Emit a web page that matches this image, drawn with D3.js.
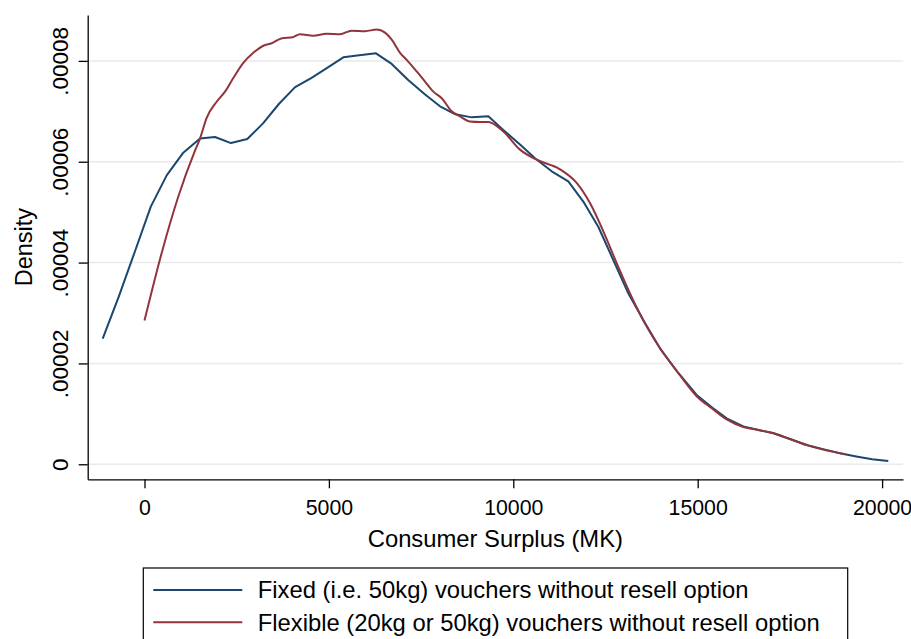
<!DOCTYPE html>
<html>
<head>
<meta charset="utf-8">
<script src="https://cdn.jsdelivr.net/npm/d3@7"></script>
<style>
  html, body { margin: 0; padding: 0; background: #fff; }
  svg { display: block; font-family: "Liberation Sans", Arial, Helvetica, sans-serif; }
</style>
</head>
<body>
<svg id="chart" width="911" height="639"></svg>
<script>
// Kernel density estimates of consumer surplus (MK)
const fixedSurplus = [-1133, -700, -260, 171, 602, 1052, 1505, 1912, 2345, 2788, 3214, 3649, 4084, 4519, 4953,
  5391, 5823, 6277, 6703, 7150, 7600, 8013, 8431, 8872, 9323, 9729, 10182, 10589, 11041, 11492, 11898,
  12305, 12712, 13118, 13571, 13978, 14474, 14972, 15400, 15786, 16237, 16650, 17050, 17500, 17955,
  18400, 18858, 19300, 19730, 20168];
const fixedDensity = [2.49e-5, 3.32e-5, 4.22e-5, 5.11e-5, 5.73e-5, 6.18e-5, 6.46e-5, 6.49e-5, 6.37e-5, 6.45e-5,
  6.76e-5, 7.15e-5, 7.48e-5, 7.66e-5, 7.86e-5, 8.07e-5, 8.11e-5, 8.15e-5, 7.94e-5, 7.62e-5, 7.34e-5,
  7.10e-5, 6.94e-5, 6.88e-5, 6.90e-5, 6.63e-5, 6.34e-5, 6.07e-5, 5.81e-5, 5.61e-5, 5.21e-5, 4.71e-5,
  4.05e-5, 3.39e-5, 2.80e-5, 2.30e-5, 1.81e-5, 1.375e-5, 1.12e-5, 0.91e-5, 0.75e-5, 0.68e-5, 0.615e-5,
  0.50e-5, 0.383e-5, 0.30e-5, 0.218e-5, 0.155e-5, 0.10e-5, 0.065e-5];

const flexSurplus = [0, 466, 917, 1369, 1505, 1686, 1957, 2183, 2408, 2679, 2950, 3221, 3449, 3731, 4021, 4216,
  4577, 4940, 5301, 5617, 5979, 6296, 6522, 6703, 6929, 7110, 7381, 7607, 7833, 8059, 8330, 8555, 8826,
  9097, 9323, 9729, 10182, 10634, 11266, 11718, 12079, 12441, 12803, 13164, 13617, 13978, 14474, 14972,
  15400, 15786, 16237, 16650, 17050, 17500, 17955, 18400, 19000];
const flexDensity = [2.85e-5, 4.19e-5, 5.31e-5, 6.22e-5, 6.46e-5, 6.87e-5, 7.19e-5, 7.39e-5, 7.66e-5, 7.96e-5,
  8.16e-5, 8.30e-5, 8.35e-5, 8.45e-5, 8.47e-5, 8.53e-5, 8.50e-5, 8.54e-5, 8.53e-5, 8.60e-5, 8.59e-5,
  8.62e-5, 8.56e-5, 8.42e-5, 8.16e-5, 8.02e-5, 7.79e-5, 7.59e-5, 7.39e-5, 7.26e-5, 7.00e-5, 6.90e-5,
  6.80e-5, 6.79e-5, 6.79e-5, 6.60e-5, 6.24e-5, 6.04e-5, 5.85e-5, 5.58e-5, 5.18e-5, 4.62e-5, 3.99e-5,
  3.39e-5, 2.73e-5, 2.30e-5, 1.81e-5, 1.35e-5, 1.10e-5, 0.89e-5, 0.74e-5, 0.68e-5, 0.62e-5, 0.50e-5,
  0.38e-5, 0.29e-5, 0.20e-5];

const xTicks = [0, 5000, 10000, 15000, 20000];
const xTickLabels = ["0", "5000", "10000", "15000", "20000"];
const yTicks = [0, 0.00002, 0.00004, 0.00006, 0.00008];
const yTickLabels = ["0", ".00002", ".00004", ".00006", ".00008"];

const seriesNames = ["Fixed (i.e. 50kg) vouchers without resell option",
                     "Flexible (20kg or 50kg) vouchers without resell option"];
const seriesColors = ["#1a476f", "#90353b"];

const svg = d3.select("#chart");
const plot = { left: 87.7, right: 903, top: 15, bottom: 479.3 };

const x = d3.scaleLinear().domain([-1540, 20567]).range([plot.left, plot.right]);
const y = d3.scaleLinear().domain([-2.98e-6, 8.91e-5]).range([plot.bottom, plot.top]);

// horizontal grid lines
svg.append("g").selectAll("line").data(yTicks).join("line")
  .attr("x1", plot.left).attr("x2", plot.right)
  .attr("y1", d => y(d)).attr("y2", d => y(d))
  .attr("stroke", "#eaeaea").attr("stroke-width", 1.5);

// density curves
const series = [
  { xs: fixedSurplus, ys: fixedDensity, curve: d3.curveLinear },
  { xs: flexSurplus, ys: flexDensity, curve: d3.curveMonotoneX }
];
series.forEach((s, i) => {
  const pts = s.xs.map((v, j) => [v, s.ys[j]]);
  svg.append("path")
    .datum(pts)
    .attr("fill", "none")
    .attr("stroke", seriesColors[i])
    .attr("stroke-width", 2)
    .attr("stroke-linejoin", "round")
    .attr("d", d3.line().x(d => x(d[0])).y(d => y(d[1])).curve(s.curve));
});

// y axis
const yAxis = svg.append("g")
  .attr("transform", `translate(${plot.left},0)`)
  .call(d3.axisLeft(y).tickValues(yTicks).tickSize(9).tickSizeOuter(0)
    .tickFormat((d, i) => yTickLabels[i]));
yAxis.select(".domain").attr("stroke", "#000").attr("stroke-width", 1.3);
yAxis.selectAll(".tick line").attr("stroke", "#000").attr("stroke-width", 1.3);
yAxis.selectAll(".tick text")
  .attr("x", 0).attr("y", -20).attr("dy", 0)
  .attr("transform", "rotate(-90)")
  .attr("text-anchor", "middle")
  .attr("fill", "#000")
  .style("font-size", "22.5px")
  .style("font-family", "'Liberation Sans', Arial, sans-serif");

// x axis
const xAxis = svg.append("g")
  .attr("transform", `translate(0,${plot.bottom})`)
  .call(d3.axisBottom(x).tickValues(xTicks).tickSize(9).tickSizeOuter(0)
    .tickFormat((d, i) => xTickLabels[i]));
xAxis.select(".domain").attr("stroke", "#000").attr("stroke-width", 1.3);
xAxis.selectAll(".tick line").attr("stroke", "#000").attr("stroke-width", 1.3);
xAxis.selectAll(".tick text")
  .attr("y", 35.7).attr("dy", 0)
  .attr("fill", "#000")
  .style("font-size", "21.3px")
  .style("font-family", "'Liberation Sans', Arial, sans-serif");

// axis titles
svg.append("text")
  .attr("x", (plot.left + plot.right) / 2).attr("y", 547)
  .attr("text-anchor", "middle")
  .style("font-size", "23.8px")
  .text("Consumer Surplus (MK)");

svg.append("text")
  .attr("transform", `translate(32,${(plot.top + plot.bottom) / 2}) rotate(-90)`)
  .attr("text-anchor", "middle")
  .style("font-size", "23.5px")
  .text("Density");

// legend
const legend = svg.append("g");
legend.append("rect")
  .attr("x", 143.3).attr("y", 568).attr("width", 704.4).attr("height", 90)
  .attr("fill", "#fff").attr("stroke", "#000").attr("stroke-width", 1.2);
seriesNames.forEach((name, i) => {
  const ly = 590 + i * 32.3;
  legend.append("line")
    .attr("x1", 153.3).attr("x2", 242.3).attr("y1", ly).attr("y2", ly)
    .attr("stroke", seriesColors[i]).attr("stroke-width", 2);
  legend.append("text")
    .attr("x", 257.7).attr("y", ly + 8.4)
    .style("font-size", "23.8px")
    .text(name);
});
</script>
</body>
</html>
